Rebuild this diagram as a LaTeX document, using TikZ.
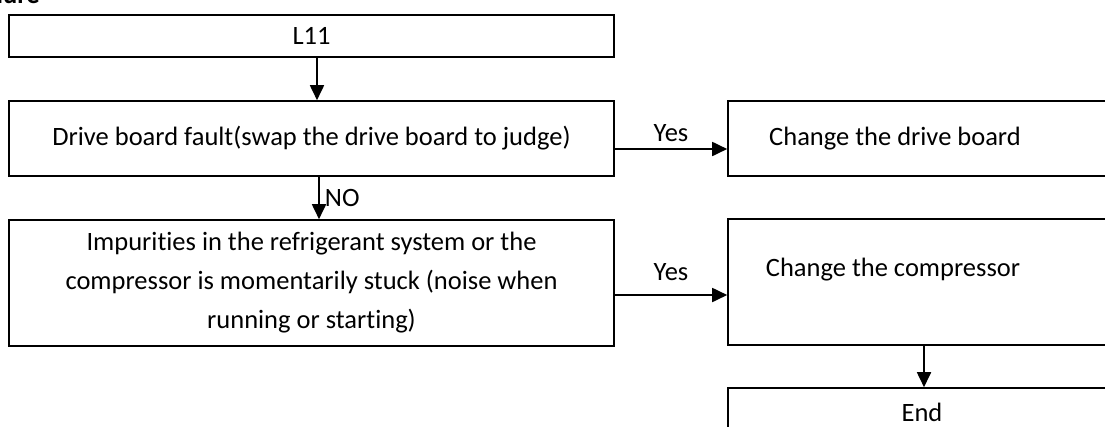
\documentclass[tikz,border=0pt]{standalone}
\usepackage{fontspec}
\setmainfont{Carlito}[RawFeature={-liga}]
\usetikzlibrary{arrows.meta}
\begin{document}
\begin{tikzpicture}[x=1pt,y=-1pt,
  box/.style={draw=black,line width=1.6pt,rectangle,inner sep=0pt,font=\fontsize{26.5}{39}\selectfont,align=center},
  txt/.style={inner sep=0pt,font=\fontsize{26.5}{39}\selectfont,align=center},
  arr/.style={line width=1.8pt,-{Triangle[length=15pt,width=14pt]}},
  lbl/.style={inner sep=0pt,font=\fontsize{26.5}{30}\selectfont}]
\useasboundingbox (0,0) rectangle (1105,426);
\node[lbl,font=\fontsize{26.5}{30}\selectfont\bfseries,anchor=base east] (hdr) at (40,3) {Procedure};
\node[box,minimum width=605pt,minimum height=42pt] (l11) at (311.5,36) {L11};
\node[box,minimum width=605pt,minimum height=75pt] (drv) at (311.5,138.5) {Drive board fault(swap the drive board to judge)};
\node[box,minimum width=605pt,minimum height=126pt] (imp) at (311.5,283)
  {Impurities in the refrigerant system or the\\compressor is momentarily stuck (noise when\\running or starting)};
\node[box,minimum width=392pt,minimum height=75pt] (cdb) at (924,138.5) {};
\node[txt] (cdbt) at (895,138.5) {Change the drive board};
\node[box,minimum width=392pt,minimum height=126pt] (ccp) at (924,282) {};
\node[txt] (ccpt) at (893,270) {Change the compressor};
\node[box,minimum width=392pt,minimum height=60pt] (end) at (924,418) {};
\node[txt] (endt) at (922,412) {End};
\draw[arr] (l11.south -| 317,0) -- (drv.north -| 317,0);
\draw[arr] (drv.south -| 319,0) -- (imp.north -| 319,0) node[lbl,midway,right=5pt] (no) {NO};
\coordinate (y1a) at (614,149);
\draw[arr] (drv.east |- y1a) -- (cdb.west |- y1a) node[lbl,midway,above=6pt] (yes1) {Yes};
\coordinate (y2a) at (614,295);
\draw[arr] (imp.east |- y2a) -- (ccp.west |- y2a) node[lbl,midway,above=13pt] (yes2) {Yes};
\draw[arr] (ccp.south) -- (end.north);
\end{tikzpicture}
\end{document}
